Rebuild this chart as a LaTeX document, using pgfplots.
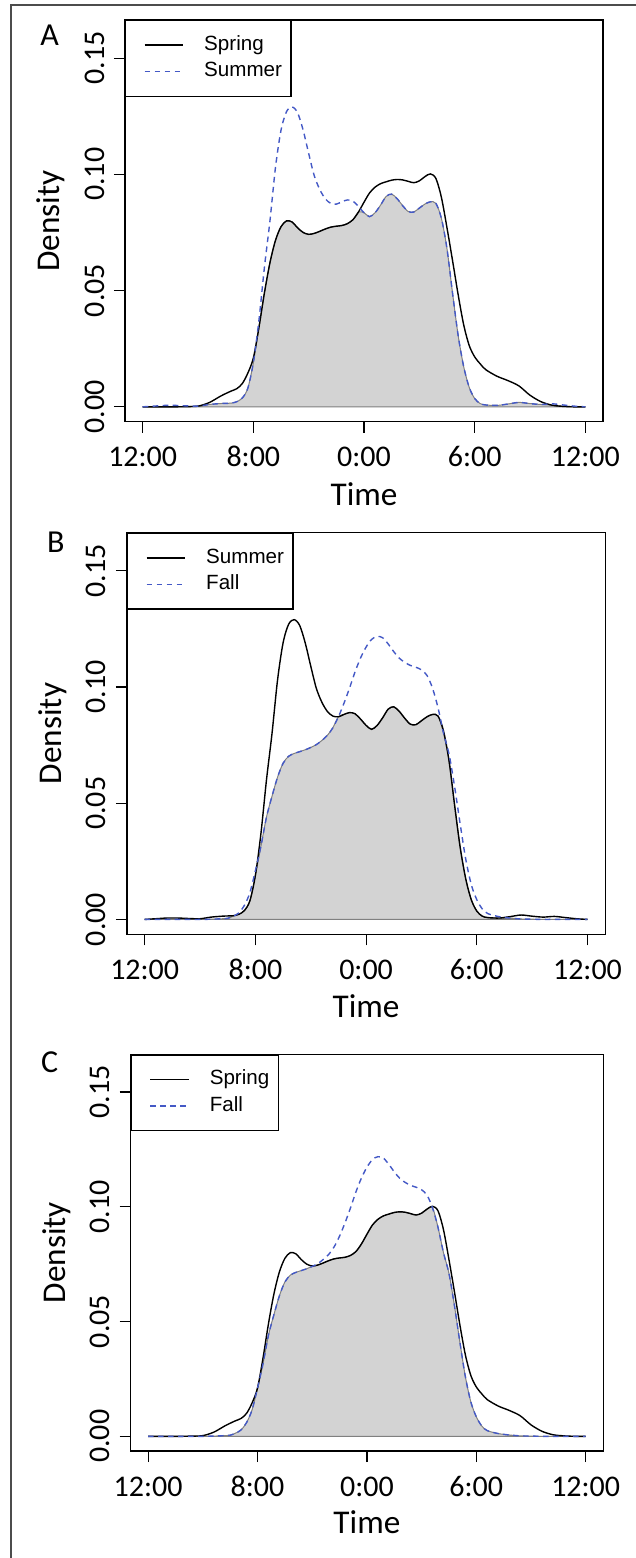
\documentclass[border=0pt]{standalone}
\usepackage{fontspec}
\setmainfont{Carlito}
\newfontfamily\legfont{Liberation Sans}
\usepackage{pgfplots}
\usepackage{pgfplotstable}
\pgfplotsset{compat=1.18}
\definecolor{densblue}{HTML}{4459C6}
\definecolor{overlap}{HTML}{D3D3D3}

% kernel density estimates (time axis in 6 h units)
\pgfplotstableread{
x    spring  summer  fall
0.0  0.0000  0.0000  0.0000
0.1  0.0000  0.0003  0.0000
0.2  0.0000  0.0006  0.0000
0.3  0.0000  0.0006  0.0000
0.4  0.0001  0.0004  0.0000
0.5  0.0003  0.0003  0.0000
0.6  0.0018  0.0010  0.0001
0.7  0.0045  0.0014  0.0003
0.75 0.0057  0.0015  0.0005
0.8  0.0068  0.0016  0.0014
0.85 0.0078  0.0022  0.0028
0.9  0.0100  0.0038  0.0060
0.95 0.0145  0.0080  0.0115
1.0  0.0210  0.0190  0.0210
1.05 0.0340  0.0370  0.0315
1.1  0.0490  0.0600  0.0440
1.15 0.0620  0.0800  0.0530
1.2  0.0716  0.1030  0.0612
1.25 0.0775  0.1190  0.0672
1.3  0.0800  0.1270  0.0702
1.35 0.0795  0.1290  0.0714
1.4  0.0770  0.1265  0.0722
1.45 0.0750  0.1190  0.0730
1.5  0.0742  0.1090  0.0740
1.55 0.0746  0.0995  0.0752
1.6  0.0755  0.0935  0.0770
1.65 0.0765  0.0895  0.0792
1.7  0.0773  0.0875  0.0825
1.75 0.0777  0.0872  0.0872
1.8  0.0780  0.0882  0.0930
1.85 0.0788  0.0890  0.0995
1.9  0.0805  0.0885  0.1065
1.95 0.0838  0.0862  0.1125
2.0  0.0880  0.0835  0.1172
2.05 0.0920  0.0818  0.1205
2.1  0.0945  0.0835  0.1218
2.15 0.0960  0.0868  0.1212
2.2  0.0968  0.0905  0.1185
2.25 0.0975  0.0915  0.1152
2.3  0.0978  0.0895  0.1124
2.35 0.0976  0.0865  0.1106
2.4  0.0970  0.0840  0.1093
2.45 0.0964  0.0838  0.1085
2.5  0.0972  0.0855  0.1074
2.55 0.0990  0.0872  0.1050
2.6  0.1002  0.0882  0.0995
2.65 0.0982  0.0875  0.0910
2.7  0.0900  0.0810  0.0800
2.75 0.0770  0.0680  0.0710
2.8  0.0630  0.0490  0.0570
2.85 0.0485  0.0310  0.0410
2.9  0.0355  0.0175  0.0260
2.95 0.0265  0.0085  0.0150
3.0  0.0215  0.0036  0.0085
3.05 0.0185  0.0014  0.0045
3.1  0.0160  0.0008  0.0025
3.2  0.0132  0.0006  0.0012
3.3  0.0113  0.0012  0.0006
3.4  0.0090  0.0019  0.0002
3.5  0.0050  0.0014  0.0001
3.6  0.0022  0.0010  0.0000
3.7  0.0007  0.0013  0.0000
3.8  0.0002  0.0008  0.0000
3.9  0.0000  0.0003  0.0000
4.0  0.0000  0.0000  0.0000
}\densities

\pgfplotsset{
  densaxis/.style={
    scale only axis,
    xmin=-0.16, xmax=4.16, ymin=-0.0064, ymax=0.1664,
    xtick={0,1,2,3,4}, xticklabels={12:00,8:00,0:00,6:00,12:00},
    ytick={0,0.05,0.1,0.15}, yticklabels={0.00,0.05,0.10,0.15},
    tick pos=left, tick align=outside, major tick length=5.5pt,
    axis line style={line width=0.6pt},
    tick style={black, line width=0.6pt},
    tick label style={font=\fontsize{15}{17}\selectfont},
    xticklabel style={anchor=base, yshift=-17.1pt},
    yticklabel style={xshift=-5pt, rotate=90, anchor=base},
    /pgf/number format/assume math mode=true,
    label style={font=\fontsize{16.6}{19}\selectfont},
    xlabel={Time}, ylabel={Density},
    xlabel style={at={(axis description cs:0.5,-0.2076)}, anchor=base},
    ylabel style={at={(axis description cs:-0.138,0.5)}, anchor=base},
    legend style={at={(0,1)}, anchor=north west, draw=black, line width=0.6pt,
      font=\legfont\fontsize{10.3}{12}\selectfont,
      inner xsep=4.5pt, inner ysep=7.45pt, row sep=3.7pt,
      nodes={inner xsep=0pt, inner ysep=0pt, text height=7.4pt, text depth=2.2pt}},
    legend cell align=left,
    legend image code/.code={
      \path (-4.7pt,0pt);
      \draw[#1] (0pt,0pt) -- (19.2pt,0pt);
      \path (29.4pt,0pt);},
  },
  solidline/.style={black, line width=0.7pt, smooth},
  dashline/.style={densblue, line width=0.7pt, dash pattern=on 2.8pt off 2.2pt, smooth},
  overlapfill/.style={fill=overlap, draw=gray, line width=0.5pt, smooth, forget plot},
}

\begin{document}
\begin{tikzpicture}
\path[use as bounding box] (0pt,0pt) rectangle (318pt,-779pt);
\draw[black!70, line width=0.6pt] (5.5pt,-779pt) -- (5.5pt,-2.5pt) -- (318pt,-2.5pt);

% A: spring vs summer
\begin{axis}[densaxis, at={(62.5pt,-210.85pt)}, anchor=south west,
  width=239pt, height=200.85pt]
\addplot[overlapfill] table[x=x, y expr={min(\thisrow{spring},\thisrow{summer})}] {\densities} \closedcycle;
\addplot[solidline] table[x=x, y=spring] {\densities};
\addlegendentry{Spring}
\addplot[dashline] table[x=x, y=summer] {\densities};
\addlegendentry{Summer}
\end{axis}
\node[anchor=base west, inner sep=0pt, font=\fontsize{16}{19}\selectfont] at (20pt,-22.5pt) {A};

% B: summer vs fall
\begin{axis}[densaxis, at={(63.5pt,-467.15pt)}, anchor=south west,
  width=239.1pt, height=200.8pt]
\addplot[overlapfill] table[x=x, y expr={min(\thisrow{summer},\thisrow{fall})}] {\densities} \closedcycle;
\addplot[solidline] table[x=x, y=summer] {\densities};
\addlegendentry{Summer}
\addplot[dashline] table[x=x, y=fall] {\densities};
\addlegendentry{Fall}
\end{axis}
\node[anchor=base west, inner sep=0pt, font=\fontsize{16}{19}\selectfont] at (23.3pt,-276pt) {B};

% C: spring vs fall
\begin{axis}[densaxis, at={(65.3pt,-725.5pt)}, anchor=south west,
  width=236.3pt, height=198.35pt]
\addplot[overlapfill] table[x=x, y expr={min(\thisrow{spring},\thisrow{fall})}] {\densities} \closedcycle;
\addplot[solidline] table[x=x, y=spring] {\densities};
\addlegendentry{Spring}
\addplot[dashline] table[x=x, y=fall] {\densities};
\addlegendentry{Fall}
\end{axis}
\node[anchor=base west, inner sep=0pt, font=\fontsize{16}{19}\selectfont] at (20.3pt,-536pt) {C};
\end{tikzpicture}
\end{document}
